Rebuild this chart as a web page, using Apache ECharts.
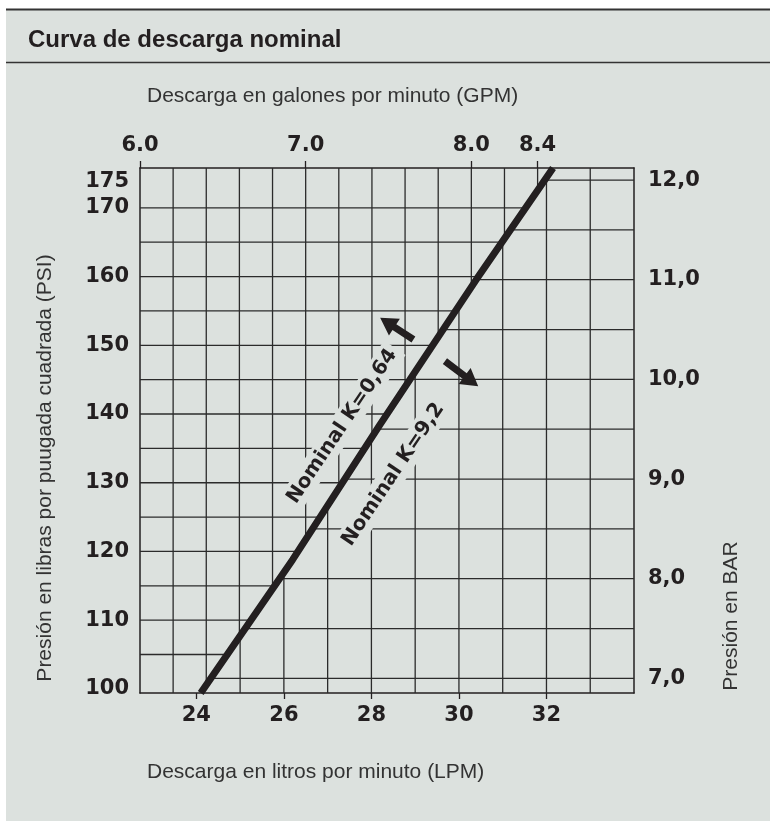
<!DOCTYPE html>
<html>
<head>
<meta charset="utf-8">
<title>Curva de descarga nominal</title>
<script src="https://cdn.jsdelivr.net/npm/echarts@6/dist/echarts.min.js"></script>
<style>
  html, body { margin: 0; padding: 0; background: #fff; }
  #chart { width: 770px; height: 821px; }
</style>
</head>
<body>
<div id="chart"></div>
<script>
  // etiquetas de los ejes
  const gpmTicks = [6.0, 7.0, 8.0, 8.4]
  const lpmTicks = [24, 26, 28, 30, 32]
  const psiTicks = [100, 110, 120, 130, 140, 150, 160, 170, 175]
  const barTicks = [7, 8, 9, 10, 11, 12]

  // cuadricula: GPM/PSI a la izquierda de la curva, LPM/BAR a la derecha
  const gpmGrid = [6.2, 6.4, 6.6, 6.8, 7.0, 7.2, 7.4, 7.6, 7.8, 8.0, 8.2, 8.4]
  const psiGrid = [105, 110, 115, 120, 125, 130, 135, 140, 145, 150, 155, 160, 165, 170]
  const lpmGrid = [25, 26, 27, 28, 29, 30, 31, 32, 33]
  const barGrid = [7.0, 7.5, 8.0, 8.5, 9.0, 9.5, 10.0, 10.5, 11.0, 11.5, 12.0]

  // curva nominal (LPM, PSI)
  const curveLpm = [24.1, 26.2, 28.2, 30.4, 32.15]
  const curvePsi = [99.4, 118.8, 138.5, 159.6, 175.8]

  // textos sobre la curva y flechas
  const noteTexts = ['Nominal K=0,64', 'Nominal K=9,2']
  const noteLpm = [27.33, 28.5]
  const notePsi = [138.2, 131.2]
  const arrowFrom = [[28.96, 150.85], [29.68, 147.7]]
  const arrowTo = [[28.2, 154.0], [30.44, 144.05]]

  const LPM_PER_GPM = 3.78541
  const PSI_PER_BAR = 14.5038
  const lpmMin = 6.0 * LPM_PER_GPM
  const lpmMax = 34.0
  const psiMin = 99.4
  const psiMax = 175.8

  const ink = '#231f20'
  const bg = '#dce1de'
  const boldFont = 'DejaVu Sans'

  function interp (v, xs, ys) {
    let i = 1
    while (i < xs.length - 1 && v > xs[i]) i++
    const t = (v - xs[i - 1]) / (xs[i] - xs[i - 1])
    return ys[i - 1] + t * (ys[i] - ys[i - 1])
  }

  let segments = []
  gpmGrid.forEach(g => {
    let x = g * LPM_PER_GPM
    let yEnd = interp(x, curveLpm, curvePsi)
    if (yEnd < psiMax) segments.push([x, psiMax, x, Math.max(yEnd, psiMin)])
  })
  psiGrid.forEach(p => {
    let xEnd = interp(p, curvePsi, curveLpm)
    segments.push([lpmMin, p, Math.min(xEnd, lpmMax), p])
  })
  lpmGrid.forEach(l => {
    let yEnd = interp(l, curveLpm, curvePsi)
    if (yEnd > psiMin) segments.push([l, psiMin, l, Math.min(yEnd, psiMax)])
  })
  barGrid.forEach(b => {
    let p = b * PSI_PER_BAR
    let xStart = interp(p, curvePsi, curveLpm)
    segments.push([Math.max(xStart, lpmMin), p, lpmMax, p])
  })

  function curveAngle (api) {
    let a = api.coord([curveLpm[0], curvePsi[0]])
    let b = api.coord([curveLpm[curveLpm.length - 1], curvePsi[curvePsi.length - 1]])
    return Math.atan2(a[1] - b[1], b[0] - a[0])
  }

  let chart = echarts.init(document.getElementById('chart'))
  let option = {
    backgroundColor: '#fff',
    animation: false,
    title: {
      text: 'Curva de descarga nominal',
      left: 23,
      top: 23,
      textStyle: { fontFamily: 'Liberation Sans', fontWeight: 'bold', fontSize: 24, color: ink }
    },
    graphic: [
      { type: 'rect', z: -10, silent: true, shape: { x: 6, y: 9, width: 764, height: 812 }, style: { fill: bg } },
      { type: 'line', silent: true, shape: { x1: 6, y1: 9.5, x2: 770, y2: 9.5 }, style: { stroke: '#333', lineWidth: 2 } },
      { type: 'line', silent: true, shape: { x1: 6, y1: 62.5, x2: 770, y2: 62.5 }, style: { stroke: '#333', lineWidth: 1.5 } },
      { type: 'text', silent: true, x: 147, y: 96, style: { text: 'Descarga en galones por minuto (GPM)', fill: '#333', font: '21px "Liberation Sans"', verticalAlign: 'middle' } },
      { type: 'text', silent: true, x: 147, y: 772, style: { text: 'Descarga en litros por minuto (LPM)', fill: '#333', font: '21px "Liberation Sans"', verticalAlign: 'middle' } },
      { type: 'text', silent: true, x: 45, y: 468, rotation: Math.PI / 2, style: { text: 'Presión en libras por puugada cuadrada (PSI)', fill: '#333', font: '21px "Liberation Sans"', align: 'center', verticalAlign: 'middle' } },
      { type: 'text', silent: true, x: 731, y: 616, rotation: Math.PI / 2, style: { text: 'Presión en BAR', fill: '#333', font: '21px "Liberation Sans"', align: 'center', verticalAlign: 'middle' } }
    ],
    grid: { left: 140, top: 168, width: 494, height: 525 },
    xAxis: [
      {
        type: 'value', position: 'bottom', min: lpmMin, max: lpmMax,
        axisLine: { show: true, lineStyle: { color: ink, width: 1.5 } },
        axisTick: { show: true, customValues: lpmTicks, length: 6, lineStyle: { color: ink, width: 1.3 } },
        axisLabel: { customValues: lpmTicks, margin: 12, color: ink, fontFamily: boldFont, fontWeight: 'bold', fontSize: 21 },
        splitLine: { show: false }
      },
      {
        type: 'value', position: 'top', min: 6.0, max: lpmMax / LPM_PER_GPM,
        axisLine: { show: true, lineStyle: { color: ink, width: 1.5 } },
        axisTick: { show: true, customValues: gpmTicks, length: 7, lineStyle: { color: ink, width: 1.3 } },
        axisLabel: { customValues: gpmTicks, margin: 12, color: ink, fontFamily: boldFont, fontWeight: 'bold', fontSize: 21, formatter: v => v.toFixed(1) },
        splitLine: { show: false }
      }
    ],
    yAxis: [
      {
        type: 'value', position: 'left', min: psiMin, max: psiMax,
        axisLine: { show: true, lineStyle: { color: ink, width: 1.5 } },
        axisTick: { show: false },
        axisLabel: {
          customValues: psiTicks, margin: 11, color: ink, fontFamily: boldFont, fontWeight: 'bold', fontSize: 21, lineHeight: 17,
          formatter: v => v === 175 ? '\n175' : String(v)
        },
        splitLine: { show: false }
      },
      {
        type: 'value', position: 'right', min: psiMin / PSI_PER_BAR, max: psiMax / PSI_PER_BAR,
        axisLine: { show: true, lineStyle: { color: ink, width: 1.5 } },
        axisTick: { show: false },
        axisLabel: { customValues: barTicks, margin: 14, color: ink, fontFamily: boldFont, fontWeight: 'bold', fontSize: 21, formatter: v => v.toFixed(1).replace('.', ',') },
        splitLine: { show: false }
      }
    ],
    series: [
      {
        type: 'custom',
        name: 'cuadricula',
        xAxisIndex: 0,
        yAxisIndex: 0,
        silent: true,
        clip: false,
        z: 1,
        encode: { x: [0, 2], y: [1, 3] },
        data: segments,
        renderItem: (params, api) => {
          let a = api.coord([api.value(0), api.value(1)])
          let b = api.coord([api.value(2), api.value(3)])
          return {
            type: 'line',
            shape: { x1: a[0], y1: a[1], x2: b[0], y2: b[1] },
            style: { stroke: '#2b2b2b', lineWidth: 1.3 }
          }
        }
      },
      {
        type: 'custom',
        name: 'textos',
        xAxisIndex: 0,
        yAxisIndex: 0,
        silent: true,
        clip: false,
        z: 3,
        data: noteTexts.map((t, i) => [noteLpm[i], notePsi[i]]),
        renderItem: (params, api) => {
          let p = api.coord([api.value(0), api.value(1)])
          return {
            type: 'text',
            x: p[0],
            y: p[1],
            rotation: curveAngle(api),
            style: {
              text: noteTexts[params.dataIndex],
              font: 'bold 20px "DejaVu Sans"',
              fill: ink,
              align: 'center',
              verticalAlign: 'middle',
              backgroundColor: bg,
              padding: [3, 4]
            }
          }
        }
      },
      {
        type: 'custom',
        name: 'flechas',
        xAxisIndex: 0,
        yAxisIndex: 0,
        silent: true,
        clip: false,
        z: 4,
        data: arrowFrom.map((f, i) => [f[0], f[1], arrowTo[i][0], arrowTo[i][1]]),
        renderItem: (params, api) => {
          let a = api.coord([api.value(0), api.value(1)])
          let b = api.coord([api.value(2), api.value(3)])
          let dx = b[0] - a[0], dy = b[1] - a[1]
          let len = Math.sqrt(dx * dx + dy * dy)
          let ux = dx / len, uy = dy / len
          let nx = -uy, ny = ux
          let head = 17, hw = 10, sw = 3.5
          let bx = b[0] - ux * head, by = b[1] - uy * head
          return {
            type: 'polygon',
            shape: {
              points: [
                [a[0] + nx * sw, a[1] + ny * sw],
                [bx + nx * sw, by + ny * sw],
                [bx + nx * hw, by + ny * hw],
                [b[0], b[1]],
                [bx - nx * hw, by - ny * hw],
                [bx - nx * sw, by - ny * sw],
                [a[0] - nx * sw, a[1] - ny * sw]
              ]
            },
            style: { fill: ink }
          }
        }
      },
      {
        type: 'line',
        name: 'Nominal',
        xAxisIndex: 0,
        yAxisIndex: 0,
        symbol: 'none',
        silent: true,
        clip: true,
        z: 5,
        lineStyle: { color: ink, width: 7, cap: 'butt' },
        data: curveLpm.map((l, i) => [l, curvePsi[i]])
      }
    ]
  }
  chart.setOption(option)
</script>
</body>
</html>
